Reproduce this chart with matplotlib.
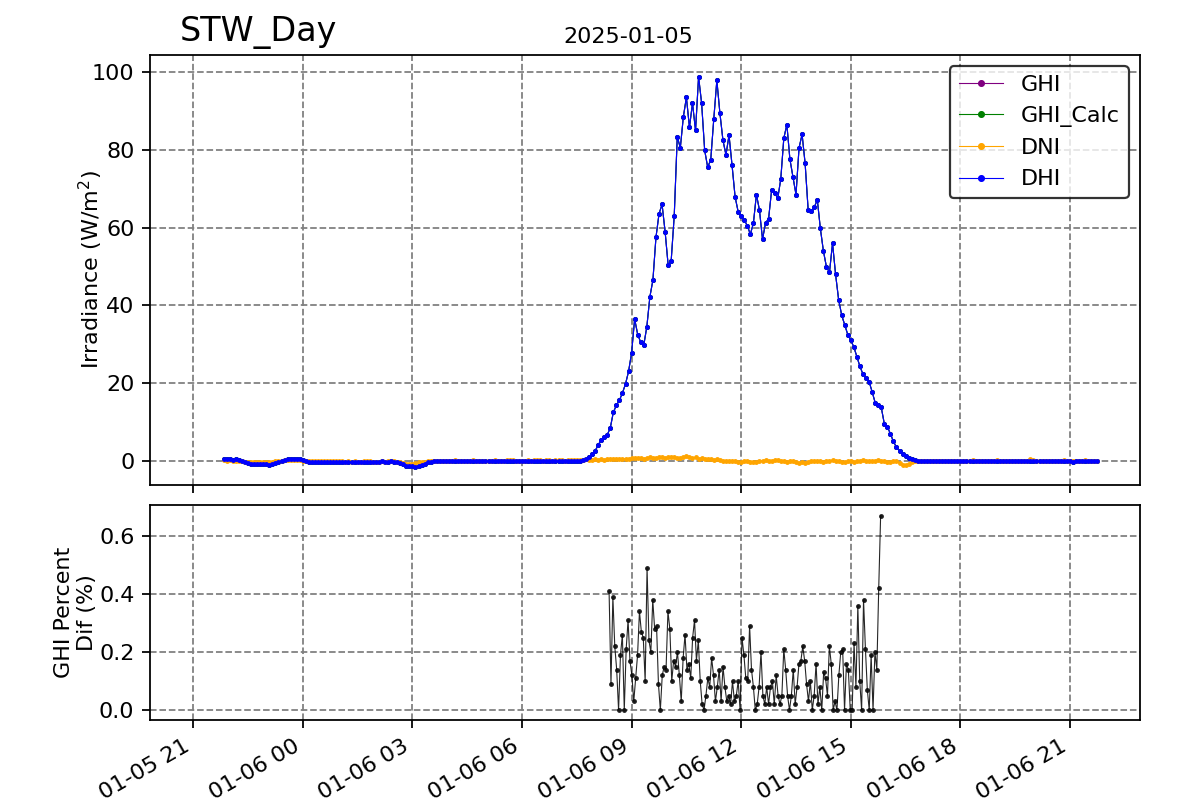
import numpy as np
import pandas as pd
import matplotlib
matplotlib.use('Agg')
import matplotlib.pyplot as plt
import matplotlib.dates as mdates

# irradiancia a cada 5 min, a partir de 2025-01-05 21:50
inicio = '2025-01-05 21:50'

dhi = [
    # noite
    0.4, 0.5, 0.4, 0.3, 0.4, 0.3, 0.1,
    -0.3, -0.6, -0.7, -0.8, -0.7, -0.8, -0.9, -0.8, -1.0, -0.9, -0.6,
    -0.2, 0.1, 0.3, 0.4, 0.4, 0.5, 0.4, 0.4, 0.3,
    -0.1, -0.2, -0.2, -0.3, -0.2, -0.2, -0.3, -0.2, -0.2, -0.3, -0.2, -0.2, -0.3, -0.3, -0.2, -0.3,
    -0.4, -0.3, -0.4, -0.3, -0.2, -0.2, -0.3, -0.3, -0.2, -0.1, -0.2, -0.2, -0.1, -0.2, -0.3,
    -0.5, -0.9, -1.3, -1.4, -1.4, -1.5, -1.3, -1.1, -0.8, -0.4, -0.2,
    0.0, -0.1, 0.0, 0.0, -0.1, 0.0, 0.0, 0.0, -0.1, 0.0,
    0.0, 0.0, 0.0, -0.1, 0.0, 0.0, 0.0, 0.0, 0.0, -0.1,
    0.0, 0.0, 0.0, 0.0, 0.0, 0.0, -0.1, 0.0, 0.0, 0.0,
    0.0, 0.0, 0.0, 0.0, 0.0, 0.0, 0.0, 0.0, 0.0, 0.0,
    0.0, 0.0, 0.0, 0.0, 0.0, 0.0, 0.0,
    # dia
    0.0, 0.1, 0.3, 0.6, 1.1, 1.7, 2.6, 4.0, 5.5, 6.2,
    6.7, 8.5, 12.5, 14.3, 15.6, 17.5, 19.8, 23.0, 27.8, 36.5,
    32.5, 30.5, 29.8, 34.5, 42.2, 46.5, 57.5, 63.5, 66.0, 59.0,
    50.4, 51.5, 63.0, 83.4, 80.5, 88.5, 93.5, 85.8, 92.0, 85.0,
    98.8, 92.0, 79.9, 75.5, 77.5, 88.0, 97.9, 89.5, 82.5, 78.7,
    83.8, 76.0, 67.9, 64.1, 63.0, 62.0, 60.5, 58.3, 61.1, 68.5,
    64.5, 57.0, 61.2, 62.3, 69.7, 69.0, 67.5, 72.5, 83.0, 86.5,
    77.6, 73.0, 68.5, 80.5, 84.0, 76.5, 64.5, 64.2, 65.2, 67.2,
    59.8, 54.0, 49.9, 48.5, 56.0, 48.0, 41.5, 37.5, 35.0, 32.5,
    31.0, 29.3, 26.8, 24.3, 22.3, 21.2, 20.4, 17.8, 15.0, 14.3,
    13.8, 9.6, 8.8, 7.0, 5.0, 3.5, 2.6, 1.8, 1.2, 0.8,
    0.4, 0.2, 0.1, 0.0, 0.0,
    # noite
    0.0, 0.0, -0.1, 0.0, 0.0, -0.1, 0.0, 0.0, 0.0, -0.1,
    0.0, 0.0, 0.0, 0.0, -0.1, 0.0, 0.0, 0.0, 0.0, 0.0,
    -0.1, 0.0, 0.0, 0.0, 0.0, -0.1, 0.0, 0.0, 0.0, 0.0,
    0.0, -0.1, 0.0, 0.0, 0.0, 0.0, 0.0, -0.1, 0.0, 0.0,
    0.0, 0.0, 0.0, -0.1, 0.0, 0.0, 0.0, 0.0, -0.2, 0.0,
    0.0, 0.0, -0.1, 0.0, 0.0, 0.0, 0.0,
]

dni = [
    0.2, 0.1, 0.2, 0.1, 0.0, 0.0, -0.1, -0.2, -0.3, -0.3, -0.2, -0.3, -0.4, -0.3,
    -0.2, -0.3, -0.2, -0.1, 0.0, 0.1, 0.2, 0.2, 0.3, 0.3, 0.2, 0.2, 0.1,
    0.1, 0.0, 0.1, 0.0, 0.1, 0.0, -0.1, 0.0, 0.0, -0.1, -0.1, 0.0, -0.1, -0.2, -0.1, -0.2,
    -0.1, -0.2, -0.2, -0.1, 0.0, -0.1, -0.2, -0.3, -0.2, -0.1, -0.2, -0.1, 0.0, -0.1, -0.2,
    -0.3, -0.5, -0.8, -0.9, -0.8, -0.6, -0.4, -0.3, -0.2, -0.1, 0.0,
    0.1, 0.0, -0.1, 0.0, 0.1, 0.0, 0.1, 0.2, 0.1, 0.0,
    0.1, 0.0, 0.1, 0.2, 0.1, 0.0, 0.1, 0.1, 0.0, 0.1,
    0.2, 0.1, 0.0, 0.1, 0.2, 0.3, 0.2, 0.1, 0.1, 0.0,
    0.1, 0.2, 0.1, 0.2, 0.3, 0.2, 0.1, 0.2, 0.2, 0.1,
    0.2, 0.3, 0.2, 0.1, 0.2, 0.3, 0.2,
    0.2, 0.3, 0.2, 0.4, 0.3, 0.3, 0.4, 0.3, 0.4, 0.3,
    0.4, 0.5, 0.4, 0.6, 0.5, 0.5, 0.6, 0.5, 0.7, 0.8, 0.7, 0.8, 0.6, 0.7, 0.9,
    0.8, 0.7, 0.9, 1.0, 0.8, 0.9, 1.1, 0.9, 0.7, 0.8, 1.0, 1.2, 1.0, 0.8, 0.9, 0.6, 0.7, 0.5, 0.6, 0.4,
    0.3, 0.4, 0.2, 0.1, 0.0, -0.1, 0.1, 0.0, -0.2, -0.3, -0.1, 0.0, -0.2, -0.4, -0.3, -0.1, 0.1, 0.2, 0.0, 0.1,
    0.2, 0.3, 0.0, -0.1, -0.2, 0.1, 0.0, -0.3, -0.5, -0.4, -0.6, -0.2, 0.0, -0.1, 0.1, 0.0, -0.2, -0.1, 0.1, 0.2,
    0.1, 0.0, -0.2, -0.3, -0.1, 0.0, -0.2, -0.1, 0.1, 0.2, 0.1, 0.0, -0.1, 0.1, 0.2, 0.1, -0.1, -0.3, -0.2, 0.1,
    0.0, -0.6, -1.0, -1.1, -0.7, -0.3, -0.1, 0.0, 0.1, 0.0,
    0.1, 0.0, 0.1, 0.0, -0.1, 0.0, 0.1, 0.0, 0.0, 0.1,
    0.0, 0.1, 0.0, 0.0, 0.1, 0.2, 0.1, 0.0, 0.1, 0.0,
    0.0, 0.1, 0.0, 0.3, 0.1, 0.0, 0.1, 0.0, 0.1, 0.0,
    0.0, 0.1, 0.0, 0.1, 0.5, 0.2, 0.1, 0.0, 0.1, 0.0,
    0.1, 0.0, 0.1, 0.0, 0.1, 0.2, 0.1, 0.0, 0.1, 0.0,
    0.1, 0.0, 0.3, 0.1, 0.0, 0.1, 0.0,
]

# GHI medido e calculado ficam praticamente em cima do DHI
ghi = list(dhi)
ghi_calc = list(dhi)

# diferenca percentual do GHI (so durante o dia)
pct_inicio = '2025-01-06 08:23'
pct_fim = '2025-01-06 15:49'
pct = [
    0.41, 0.09, 0.39, 0.22, 0.14, 0.00, 0.19, 0.26, 0.00, 0.21,
    0.31, 0.17, 0.12, 0.03, 0.11, 0.19, 0.34, 0.27, 0.25, 0.10,
    0.49, 0.24, 0.20, 0.38, 0.28, 0.29, 0.09, 0.00, 0.12, 0.15,
    0.14, 0.34, 0.28, 0.10, 0.17, 0.15, 0.20, 0.12, 0.03, 0.18,
    0.26, 0.14, 0.16, 0.11, 0.25, 0.31, 0.17, 0.24, 0.10, 0.02,
    0.00, 0.05, 0.11, 0.08, 0.18, 0.12, 0.03, 0.08, 0.14, 0.03,
    0.15, 0.08, 0.03, 0.05, 0.02, 0.10, 0.03, 0.05, 0.10, 0.00,
    0.25, 0.19, 0.11, 0.10, 0.29, 0.14, 0.08, 0.00, 0.02, 0.08,
    0.20, 0.05, 0.02, 0.08, 0.02, 0.08, 0.10, 0.02, 0.12, 0.05,
    0.02, 0.05, 0.21, 0.14, 0.05, 0.00, 0.05, 0.14, 0.02, 0.08,
    0.16, 0.17, 0.22, 0.17, 0.09, 0.03, 0.10, 0.00, 0.05, 0.16,
    0.02, 0.08, 0.00, 0.13, 0.11, 0.05, 0.22, 0.16, 0.00, 0.03,
    0.00, 0.12, 0.20, 0.21, 0.00, 0.16, 0.14, 0.00, 0.00, 0.23,
    0.08, 0.36, 0.10, 0.00, 0.38, 0.21, 0.07, 0.00, 0.19, 0.00,
    0.20, 0.14, 0.42, 0.67,
]

tempo = pd.date_range(inicio, periods=len(dhi), freq='5min')
tempo_pct = pd.date_range(pct_inicio, pct_fim, periods=len(pct))

fig = plt.figure(figsize=(7.5, 5), dpi=160)
ax1 = fig.add_axes([0.125, 0.39375, 0.825, 0.5375])
ax2 = fig.add_axes([0.125, 0.1, 0.825, 0.26875], sharex=ax1)

estilo = dict(marker='o', markersize=1.2, linewidth=0.5)
ax1.plot(tempo, ghi, color='purple', label='GHI', **estilo)
ax1.plot(tempo, ghi_calc, color='green', label='GHI_Calc', **estilo)
ax1.plot(tempo, dni, color='orange', label='DNI', **estilo)
ax1.plot(tempo, dhi, color='blue', label='DHI', **estilo)

ax1.set_ylabel('Irradiance (W/m$^2$)', labelpad=-6)
ax1.set_ylim(-6.2, 104.4)
ax1.grid(True, linestyle='--', color='gray')
ax1.legend(loc='upper right', edgecolor='black', markerscale=1.8)
ax1.tick_params(labelbottom=False)

ax2.plot(tempo_pct, pct, color='black', marker='o', markersize=1.2,
         markerfacecolor='gray', linewidth=0.5, alpha=0.85)
ax2.set_ylabel('GHI Percent\nDif (%)', labelpad=1)
ax2.set_ylim(-0.034, 0.707)
ax2.grid(True, linestyle='--', color='gray')

ax2.set_xlim(pd.Timestamp('2025-01-05 19:49'), pd.Timestamp('2025-01-06 22:55'))
ax2.xaxis.set_major_locator(mdates.HourLocator(byhour=range(0, 24, 3)))
ax2.xaxis.set_major_formatter(mdates.DateFormatter('%m-%d %H'))
plt.setp(ax2.get_xticklabels(), rotation=30, ha='right')

fig.text(0.15, 1 - 41 / 800, 'STW_Day', fontsize=15, va='baseline')
fig.text(0.524, 1 - 43 / 800, '2025-01-05', fontsize=10, ha='center', va='baseline')

fig.savefig('out.png', dpi=160)
